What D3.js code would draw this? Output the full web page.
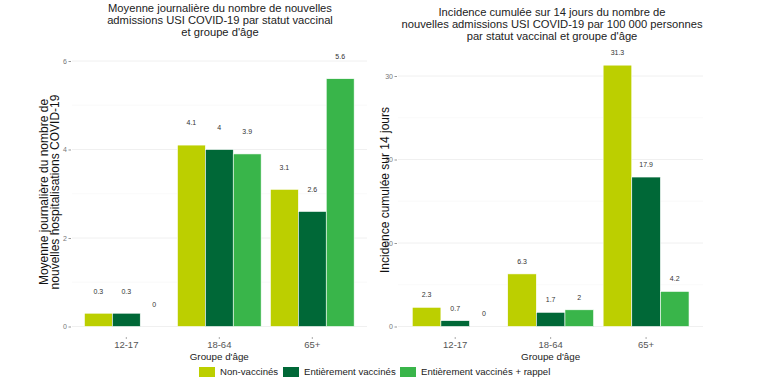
<!DOCTYPE html>
<html>
<head>
<meta charset="utf-8">
<script src="https://cdn.jsdelivr.net/npm/d3@7"></script>
<style>
  body { margin: 0; background: #fff; }
  svg { font-family: "Liberation Sans", Arial, sans-serif; }
</style>
</head>
<body>
<svg id="chart" width="770" height="389"></svg>
<script>
'use strict'

// categories
const ageGroups = ["12-17", "18-64", "65+"];
const statuses = ["Non-vaccinés", "Entièrement vaccinés", "Entièrement vaccinés + rappel"];

// left: moyenne journalière
const avgNonVacc = [0.3, 4.1, 3.1];
const avgFull = [0.3, 4.0, 2.6];
const avgBooster = [0, 3.9, 5.6];
const avgTicks = [0, 2, 4, 6];

// right: incidence cumulée 14 jours / 100 000
const incNonVacc = [2.3, 6.3, 31.3];
const incFull = [0.7, 1.7, 17.9];
const incBooster = [0, 2.0, 4.2];
const incTicks = [0, 10, 20, 30];

const statusColors = ["#bccf00", "#006837", "#39b54a"];

const color = d3.scaleOrdinal().domain(statuses).range(statusColors);

const svg = d3.select("#chart");

function drawPanel(opt) {

    let g = svg.append("g");

    let x = d3.scaleBand()
        .domain(ageGroups)
        .range(opt.xRange)
        .paddingInner(0.1)
        .paddingOuter(0.05);

    let xSub = d3.scaleBand()
        .domain(statuses)
        .range([0, x.bandwidth()]);

    let y = d3.scaleLinear()
        .domain([0, opt.yMax])
        .range(opt.yRange);

    // minor grid
    let step = opt.ticks[1] - opt.ticks[0];
    let minor = opt.ticks.slice(0, -1).map(t => t + step / 2);
    g.selectAll(".minor")
        .data(minor)
        .enter().append("line")
        .attr("x1", opt.gridX[0]).attr("x2", opt.gridX[1])
        .attr("y1", d => y(d)).attr("y2", d => y(d))
        .attr("stroke", "#f6f6f6").attr("stroke-width", 0.6);

    // major grid
    g.selectAll(".major")
        .data(opt.ticks)
        .enter().append("line")
        .attr("x1", opt.gridX[0]).attr("x2", opt.gridX[1])
        .attr("y1", d => y(d)).attr("y2", d => y(d))
        .attr("stroke", "#eeeeee").attr("stroke-width", 0.9);

    // y axis
    let yAxis = g.append("g")
        .attr("transform", "translate(" + (opt.gridX[0] - 1) + ",0)")
        .call(d3.axisLeft(y).tickValues(opt.ticks).tickFormat(d3.format("d"))
            .tickSize(2.5).tickPadding(1.5));
    yAxis.select(".domain").remove();
    yAxis.selectAll("line").attr("stroke", "#999");
    yAxis.selectAll("text").attr("fill", "#777").style("font-size", "7px");

    // x axis
    let xAxis = g.append("g")
        .attr("transform", "translate(0," + 337 + ")")
        .call(d3.axisBottom(x).tickSize(2).tickPadding(2));
    xAxis.select(".domain").remove();
    xAxis.selectAll("line").attr("stroke", "#aaa");
    xAxis.selectAll("text").attr("fill", "#555").style("font-size", "9.5px");

    // bars
    let rows = [];
    ageGroups.forEach((a, i) => {
        opt.series.forEach((s, j) => {
            rows.push({ age: a, status: statuses[j], value: s[i] });
        });
    });

    g.selectAll(".bar")
        .data(rows)
        .enter().append("rect")
        .attr("x", d => x(d.age) + xSub(d.status))
        .attr("width", xSub.bandwidth())
        .attr("y", d => y(d.value))
        .attr("height", d => y(0) - y(d.value))
        .attr("fill", d => color(d.status))
        .attr("stroke", "#fff")
        .attr("stroke-width", 0.6);

    g.selectAll(".lbl")
        .data(rows)
        .enter().append("text")
        .attr("x", d => x(d.age) + xSub(d.status) + xSub.bandwidth() / 2)
        .attr("y", d => y(d.value + opt.nudge))
        .attr("text-anchor", "middle")
        .attr("dy", "0.35em")
        .attr("fill", "#333")
        .style("font-size", "7px")
        .text(d => d3.format("~g")(d.value));

    // titles
    g.append("text")
        .attr("text-anchor", "middle")
        .attr("fill", "#222")
        .style("font-size", "11.2px")
        .selectAll("tspan")
        .data(opt.title)
        .enter().append("tspan")
        .attr("x", opt.titleX)
        .attr("y", (d, i) => opt.titleY + i * 12.2)
        .text(d => d);

    g.append("text")
        .attr("text-anchor", "middle")
        .attr("transform", "translate(" + opt.yTitleX + "," + opt.yTitleY + ") rotate(-90)")
        .attr("fill", "#111")
        .style("font-size", "12px")
        .selectAll("tspan")
        .data(opt.yTitle)
        .enter().append("tspan")
        .attr("x", 0)
        .attr("y", (d, i) => i * 11.4)
        .text(d => d);

    g.append("text")
        .attr("x", (opt.xRange[0] + opt.xRange[1]) / 2)
        .attr("y", 360)
        .attr("text-anchor", "middle")
        .attr("fill", "#222")
        .style("font-size", "9.8px")
        .text("Groupe d'âge");
}

drawPanel({
    series: [avgNonVacc, avgFull, avgBooster],
    ticks: avgTicks,
    yMax: 6,
    yRange: [326.5, 61],
    xRange: [79.8, 358.8],
    gridX: [72, 367],
    nudge: 0.5,
    title: ["Moyenne journalière du nombre de nouvelles",
            "admissions USI COVID-19 par statut vaccinal",
            "et groupe d'âge"],
    titleX: 220,
    titleY: 12,
    yTitle: ["Moyenne journalière du nombre de", "nouvelles hospitalisations COVID-19"],
    yTitleX: 48,
    yTitleY: 192
});

drawPanel({
    series: [incNonVacc, incFull, incBooster],
    ticks: incTicks,
    yMax: 30,
    yRange: [326.5, 76],
    xRange: [407.5, 693.8],
    gridX: [398, 703],
    nudge: 1.5,
    title: ["Incidence cumulée sur 14 jours du nombre de",
            "nouvelles admissions USI COVID-19 par 100 000 personnes",
            "par statut vaccinal et groupe d'âge"],
    titleX: 552,
    titleY: 16,
    yTitle: ["Incidence cumulée sur 14 jours"],
    yTitleX: 389,
    yTitleY: 190
});

// legend
let legendX = [199, 283, 400];
let legend = svg.append("g");
let items = legend.selectAll("g")
    .data(statuses)
    .enter().append("g")
    .attr("transform", (d, i) => "translate(" + legendX[i] + ",367)");

items.append("rect")
    .attr("width", 16).attr("height", 10)
    .attr("fill", d => color(d));

items.append("text")
    .attr("x", 21)
    .attr("y", 5)
    .attr("dy", "0.35em")
    .attr("fill", "#222")
    .style("font-size", "9.6px")
    .text(d => d);
</script>
</body>
</html>
